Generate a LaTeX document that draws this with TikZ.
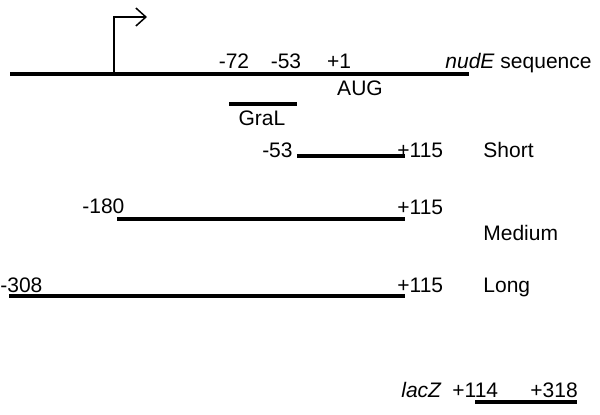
\documentclass[tikz,border=0pt]{standalone}
\usepackage{fontspec}
\setmainfont{Liberation Sans}
\usepackage{tikz}
\usetikzlibrary{arrows.meta,positioning}
\definecolor{seqInk}{HTML}{000000}
\tikzset{
  seqlabel/.style={inner sep=0pt,font=\fontsize{10.5}{12.6}\selectfont,text=seqInk},
  dnaline/.style={draw=seqInk,line width=1.75pt},
  fragbar/.style={draw=seqInk,line width=2pt},
  tssarrow/.style={draw=seqInk,line width=0.75pt,-{Straight Barb[length=5pt,width=9pt,line width=0.75pt]}}
}
\begin{document}
\begin{tikzpicture}[x=0.5pt,y=-0.5pt]
  \useasboundingbox (0,0) rectangle (600,414);
  % nudE region and promoter
  \coordinate (s0) at (10,74);
  \coordinate (s1) at (469,74);
  \coordinate (tss) at (114,74);
  \coordinate (tssTop) at (114,17);
  \coordinate (tssTip) at (147,17);
  \draw[dnaline] (s0) -- (s1);
  \draw[tssarrow] (tss) -- (tssTop) -- (tssTip);
  \node[seqlabel, anchor=base] (p72) at (234,68) {-72};
  \node[seqlabel, anchor=base] (p53) at (286,68) {-53};
  \node[seqlabel, anchor=base] (p1) at (339,68) {+1};
  \node[seqlabel, anchor=base west] (nude) at (445,68) {\textit{nudE} sequence};
  \node[seqlabel, anchor=base] (aug) at (360,95) {AUG};
  % GraL site
  \coordinate (g0) at (229,104);
  \coordinate (g1) at (297,104);
  \draw[fragbar] (g0) -- (g1);
  \node[seqlabel, anchor=base] (gral) at (262,125) {GraL};
  % fragments
  \coordinate (sh0) at (297,156);
  \coordinate (sh1) at (405,156);
  \draw[fragbar] (sh0) -- (sh1);
  \node[seqlabel, anchor=base east] (shL) at (293,157) {-53};
  \node[seqlabel, anchor=base west] (shR) at (397,157) {+115};
  \node[seqlabel, anchor=base west] (short) at (483,157) {Short};
  \coordinate (md0) at (117,219);
  \coordinate (md1) at (405,219);
  \draw[fragbar] (md0) -- (md1);
  \node[seqlabel, anchor=base west] (mdL) at (82,213) {-180};
  \node[seqlabel, anchor=base west] (mdR) at (397,214) {+115};
  \node[seqlabel, anchor=base west] (medium) at (483,240) {Medium};
  \coordinate (lg0) at (9,296);
  \coordinate (lg1) at (405,296);
  \draw[fragbar] (lg0) -- (lg1);
  \node[seqlabel, anchor=base west] (lgL) at (0,292) {-308};
  \node[seqlabel, anchor=base west] (lgR) at (397,292) {+115};
  \node[seqlabel, anchor=base west] (long) at (483,292) {Long};
  % lacZ
  \coordinate (lz0) at (475,402);
  \coordinate (lz1) at (577,402);
  \draw[fragbar] (lz0) -- (lz1);
  \node[seqlabel, anchor=base east] (lacz) at (442,397) {\textit{lacZ}};
  \node[seqlabel, anchor=base west] (lzL) at (452,397) {+114};
  \node[seqlabel, anchor=base west] (lzR) at (530,397) {+318};
\end{tikzpicture}
\end{document}
